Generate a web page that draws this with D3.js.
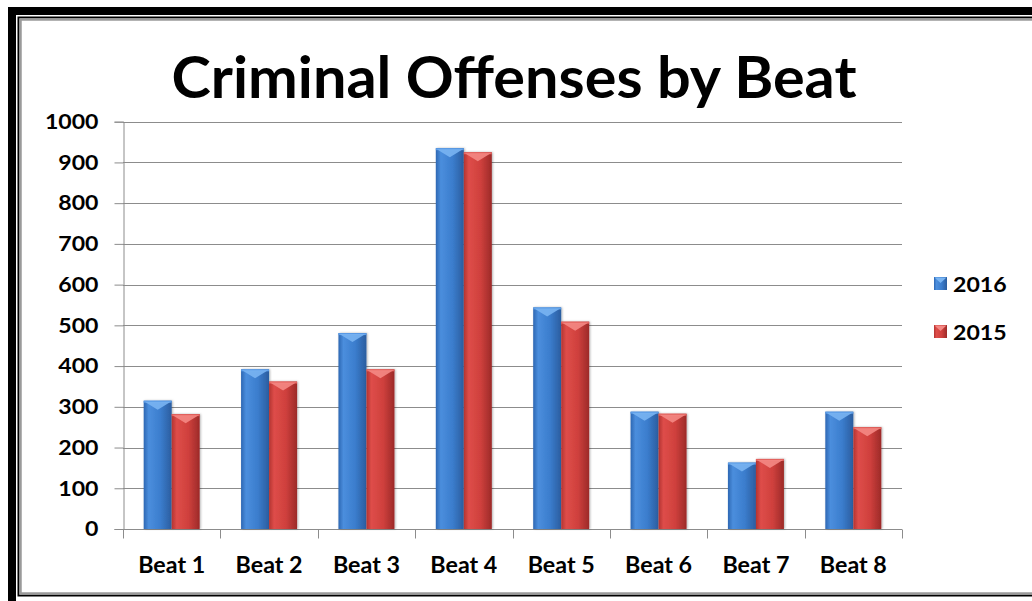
<!DOCTYPE html>
<html>
<head>
<meta charset="utf-8">
<script src="https://cdn.jsdelivr.net/npm/d3@7"></script>
<style>
  html, body { margin: 0; padding: 0; background: #fff; }
  svg { display: block; }
  text { font-family: Lato, "Open Sans", sans-serif; font-weight: bold; fill: #000; }
</style>
</head>
<body>
<div id="chart"></div>
<script>
const width = 1032;
const height = 601;

// data
const beats = ["Beat 1", "Beat 2", "Beat 3", "Beat 4", "Beat 5", "Beat 6", "Beat 7", "Beat 8"];
const years = ["2016", "2015"];
const values2016 = [315, 392, 481, 935, 544, 288, 163, 288];
const values2015 = [282, 362, 392, 925, 509, 283, 172, 250];
const yTicks = [0, 100, 200, 300, 400, 500, 600, 700, 800, 900, 1000];

const plot = { left: 123, right: 902, top: 121.7, bottom: 529 };
const digitW = 13.4; // the source font is wide, stretch labels to match

const svg = d3.select("#chart").append("svg")
    .attr("width", width)
    .attr("height", height);

const defs = svg.append("defs");

// bar fills: darker edges, lighter left part, like the Excel bevel
const palettes = {
    "2016": { stops: ["#2d67b3", "#4b8edd", "#3b7dcd", "#2b5d9f"], cap: "#79b4f2", capEdge: "#5a9be6" },
    "2015": { stops: ["#b33331", "#de4d49", "#cf403d", "#9c2a28"], cap: "#f48884", capEdge: "#e3625e" }
};
years.forEach(y => {
    const grad = defs.append("linearGradient")
        .attr("id", "grad" + y)
        .attr("x1", "0%").attr("x2", "100%")
        .attr("y1", "0%").attr("y2", "0%");
    [0, 0.18, 0.6, 1].forEach((o, k) => {
        grad.append("stop").attr("offset", o).attr("stop-color", palettes[y].stops[k]);
    });
});

const shadow = defs.append("filter").attr("id", "shadow")
    .attr("x", "-20%").attr("y", "-5%").attr("width", "140%").attr("height", "110%");
shadow.append("feDropShadow")
    .attr("dx", 1).attr("dy", 0).attr("stdDeviation", 1.2)
    .attr("flood-color", "#000").attr("flood-opacity", 0.3);

// frame
svg.append("rect").attr("x", 12).attr("y", 11).attr("width", 1040).attr("height", 610)
    .attr("fill", "none").attr("stroke", "#000").attr("stroke-width", 8);
svg.append("rect").attr("x", 18.5).attr("y", 17.5).attr("width", 1030).attr("height", 578)
    .attr("fill", "none").attr("stroke", "#000").attr("stroke-width", 2);
svg.append("rect").attr("x", 20.5).attr("y", 19.5).attr("width", 1030).attr("height", 574)
    .attr("fill", "none").attr("stroke", "#9a9a9a").attr("stroke-width", 2.5);

// title
svg.append("text")
    .attr("x", 514)
    .attr("y", 98)
    .attr("text-anchor", "middle")
    .attr("font-size", 58)
    .attr("font-weight", 900)
    .attr("textLength", 685)
    .attr("lengthAdjust", "spacingAndGlyphs")
    .text("Criminal Offenses by Beat");

const y = d3.scaleLinear().domain([0, 1000]).range([plot.bottom, plot.top]);

const x0 = d3.scaleBand()
    .domain(beats)
    .range([plot.left, plot.right])
    .paddingInner(0.425)
    .paddingOuter(0.2125);

const x1 = d3.scaleBand()
    .domain(years)
    .range([0, x0.bandwidth()])
    .padding(0);

// gridlines
svg.append("g")
    .selectAll("line")
    .data(yTicks.filter(d => d > 0))
    .join("line")
    .attr("x1", plot.left)
    .attr("x2", plot.right)
    .attr("y1", d => Math.round(y(d)) + 0.5)
    .attr("y2", d => Math.round(y(d)) + 0.5)
    .attr("stroke", "#8c8c8c")
    .attr("stroke-width", 1);

// y axis
const yAxis = svg.append("g")
    .attr("transform", `translate(${plot.left + 0.5},0)`)
    .call(d3.axisLeft(y).tickValues(yTicks).tickFormat(d3.format("d")).tickSize(9).tickPadding(16));
yAxis.select(".domain").attr("stroke", "#8c8c8c");
yAxis.selectAll(".tick line").attr("stroke", "#8c8c8c");
yAxis.selectAll(".tick text")
    .attr("font-size", 21)
    .attr("font-family", "Lato, sans-serif")
    .attr("font-weight", "bold")
    .attr("fill", "#000")
    .attr("textLength", d => String(d).length * digitW)
    .attr("lengthAdjust", "spacingAndGlyphs");

// x axis with ticks between categories
const xAxisG = svg.append("g")
    .attr("transform", `translate(0,${Math.round(plot.bottom) + 0.5})`);
xAxisG.append("line")
    .attr("x1", plot.left).attr("x2", plot.right)
    .attr("stroke", "#8c8c8c");
const boundaries = beats.map(b => x0(b) - x0.step() * x0.paddingOuter()).concat([plot.right]);
xAxisG.selectAll("line.tk")
    .data(boundaries)
    .join("line")
    .attr("class", "tk")
    .attr("x1", d => Math.round(d) + 0.5)
    .attr("x2", d => Math.round(d) + 0.5)
    .attr("y1", 0).attr("y2", 9)
    .attr("stroke", "#8c8c8c");
xAxisG.selectAll("text")
    .data(beats)
    .join("text")
    .attr("x", d => x0(d) + x0.bandwidth() / 2)
    .attr("y", 43)
    .attr("text-anchor", "middle")
    .attr("font-size", 22)
    .attr("textLength", 67)
    .attr("lengthAdjust", "spacingAndGlyphs")
    .text(d => d);

// bars
const seriesValues = { "2016": values2016, "2015": values2015 };
const capH = 8;

beats.forEach((beat, i) => {
    const grp = svg.append("g").attr("transform", `translate(${x0(beat)},0)`);
    years.forEach(yr => {
        const v = seriesValues[yr][i];
        const bx = x1(yr);
        const bw = x1.bandwidth();
        const top = y(v);
        grp.append("rect")
            .attr("x", bx)
            .attr("y", top)
            .attr("width", bw)
            .attr("height", y(0) - top)
            .attr("fill", `url(#grad${yr})`)
            .attr("filter", "url(#shadow)");
        // bevelled top
        grp.append("rect")
            .attr("x", bx)
            .attr("y", top)
            .attr("width", bw)
            .attr("height", 2)
            .attr("fill", palettes[yr].capEdge);
        grp.append("path")
            .attr("d", `M${bx + 1},${top + 1} L${bx + bw - 1},${top + 1} L${bx + bw / 2},${top + capH + 1} Z`)
            .attr("fill", palettes[yr].cap)
            .attr("opacity", 0.9);
    });
});

// legend
const legend = svg.append("g");
const legendY = [284, 332];
years.forEach((yr, k) => {
    const cy = legendY[k];
    const lg = legend.append("g").attr("transform", `translate(934,${cy - 7})`);
    lg.append("rect")
        .attr("width", 13).attr("height", 13)
        .attr("fill", `url(#grad${yr})`);
    lg.append("path")
        .attr("d", "M0.5,0.5 L12.5,0.5 L6.5,6 Z")
        .attr("fill", palettes[yr].cap);
    legend.append("text")
        .attr("x", 953)
        .attr("y", cy)
        .attr("dy", "0.36em")
        .attr("font-size", 21)
        .attr("textLength", yr.length * digitW)
        .attr("lengthAdjust", "spacingAndGlyphs")
        .text(yr);
});
</script>
</body>
</html>
